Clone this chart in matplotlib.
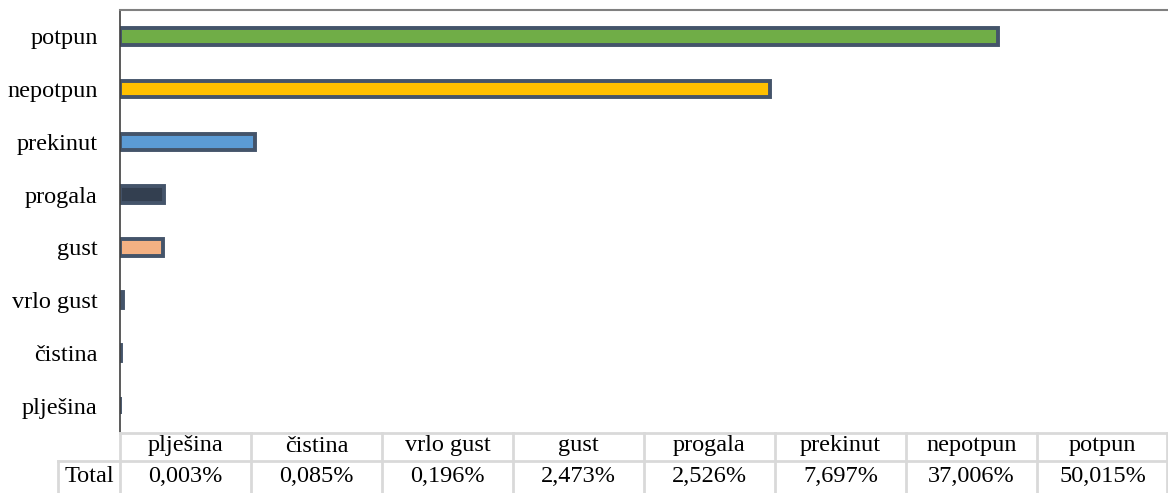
import matplotlib.pyplot as plt
from matplotlib.lines import Line2D

plt.rcParams['font.family'] = ['Liberation Serif', 'DejaVu Serif']

# data (bottom to top)
kategorije = ['plješina', 'čistina', 'vrlo gust', 'gust', 'progala', 'prekinut', 'nepotpun', 'potpun']
udio = [0.003, 0.085, 0.196, 2.473, 2.526, 7.697, 37.006, 50.015]
boje = ['#4472C4', '#4472C4', '#4472C4', '#F4B183', '#333F50', '#5B9BD5', '#FFC000', '#70AD47']

W, H = 1168, 493
fig = plt.figure(figsize=(W / 100, H / 100), dpi=100)

x0, x1 = 120, 1168
y_top, y_bot = 10, 432
ax = fig.add_axes([x0 / W, (H - y_bot) / H, (x1 - x0) / W, (y_bot - y_top) / H])

fs = 17.5
ypos = list(range(len(kategorije)))
ax.barh(ypos, udio, height=0.31, color=boje, edgecolor='#44546A', linewidth=2.8)
ax.set_xlim(0, 59.7)
ax.set_ylim(-0.5, len(kategorije) - 0.5)
ax.set_yticks(ypos)
ax.set_yticklabels(kategorije, fontsize=fs)
ax.tick_params(axis='y', length=0, pad=16)
ax.set_xticks([])
ax.spines['right'].set_visible(False)
ax.spines['bottom'].set_visible(False)
ax.spines['top'].set_color('#808080')
ax.spines['top'].set_linewidth(1.5)
ax.spines['left'].set_color('#404040')
ax.spines['left'].set_linewidth(1.2)

# data table below the chart
grid = '#D9D9D9'
def fx(px):
    return px / W
def fy(py):
    return 1 - py / H

col_w = (x1 - x0) / len(kategorije)
row1, row2, row3 = 433, 461, 493
lines = []
lines.append(Line2D([fx(x0), fx(x1)], [fy(row1), fy(row1)]))
lines.append(Line2D([fx(58), fx(x1)], [fy(row2), fy(row2)]))
lines.append(Line2D([fx(58), fx(58)], [fy(row2), fy(row3)]))
for i in range(len(kategorije) + 1):
    xx = x0 + i * col_w
    if i == len(kategorije):
        xx = x1 - 1
    lines.append(Line2D([fx(xx), fx(xx)], [fy(row1), fy(row3)]))
for ln in lines:
    ln.set_color(grid)
    ln.set_linewidth(2)
    fig.add_artist(ln)

for i, (k, v) in enumerate(zip(kategorije, udio)):
    cx = x0 + (i + 0.5) * col_w
    fig.text(fx(cx), fy((row1 + row2) / 2 - 1), k, ha='center', va='center', fontsize=fs)
    s = f'{v:.3f}%'.replace('.', ',')
    fig.text(fx(cx), fy((row2 + row3) / 2), s, ha='center', va='center', fontsize=fs)
fig.text(fx(89), fy((row2 + row3) / 2), 'Total', ha='center', va='center', fontsize=fs)

fig.savefig('out.png', dpi=100)
